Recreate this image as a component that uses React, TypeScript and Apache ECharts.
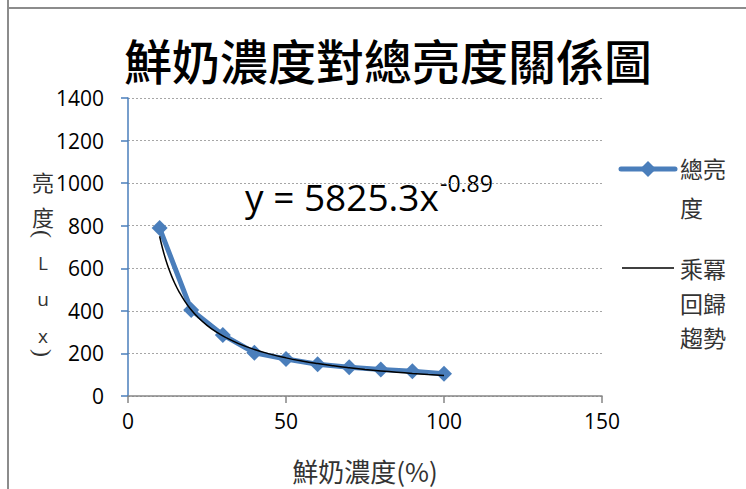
import React, { useEffect, useRef } from "react";
import * as echarts from "echarts";

const chartTitle = "鮮奶濃度對總亮度關係圖";
const xAxisName = "鮮奶濃度(%)";
const yAxisNameChars = ["亮", "度", "(", "L", "u", "x", ")"];
const concentration = [10, 20, 30, 40, 50, 60, 70, 80, 90, 100];
const brightness = [789, 404, 287, 203, 174, 149, 135, 124, 116, 105];
const seriesName = "總亮度";
const trendName = "乘冪回歸趨勢";
const trendCoef = 5825.3;
const trendExp = -0.89;
const trendX = [10, 11, 12, 13, 14, 15, 16, 18, 20, 22, 25, 28, 31, 35, 40, 45, 50, 55, 60, 65, 70, 75, 80, 85, 90, 95, 100];

const BLUE = "#4a7ebb";
const SANS = "'Open Sans', 'Noto Sans', sans-serif";
const CJK = "'Noto Sans CJK TC', 'Noto Sans CJK SC', sans-serif";

export default function App() {
  const ref = useRef<HTMLDivElement>(null);
  useEffect(() => {
    if (!ref.current) return;
    const chart = echarts.init(ref.current, undefined, { renderer: "svg" });
    const mainData = concentration.map((x, i) => [x, brightness[i]]);
    const trendData = trendX.map((x) => [x, trendCoef * Math.pow(x, trendExp)]);
    const yLabelPos = [181, 216, 234, 263, 299, 336, 353];
    chart.setOption({
      animation: false,
      backgroundColor: "#ffffff",
      title: {
        text: chartTitle,
        left: 383,
        top: 30,
        textAlign: "center",
        textStyle: { fontFamily: CJK, fontSize: 48, fontWeight: 500, color: "#000" },
      },
      grid: { left: 128, right: 144, top: 98, bottom: 93, containLabel: false },
      xAxis: {
        type: "value",
        min: 0,
        max: 150,
        interval: 50,
        name: xAxisName,
        nameLocation: "middle",
        nameGap: 61,
        nameTextStyle: { fontFamily: CJK, fontSize: 26, color: "#333" },
        axisLine: { show: true, onZero: false, lineStyle: { color: "#868686", width: 1.5 } },
        axisTick: { show: true, length: 7, lineStyle: { color: "#868686", width: 1.5 } },
        axisLabel: { fontFamily: SANS, fontSize: 21, color: "#000", margin: 14 },
        splitLine: { show: false },
      },
      yAxis: {
        type: "value",
        min: 0,
        max: 1400,
        interval: 200,
        axisLine: { show: true, lineStyle: { color: BLUE, width: 1.5 } },
        axisTick: { show: true, length: 7, lineStyle: { color: BLUE, width: 1.5 } },
        axisLabel: { fontFamily: SANS, fontSize: 21, color: "#000", margin: 24, formatter: (v: number) => String(v) },
        splitLine: { show: true, lineStyle: { color: "#a6a6a6", type: [2, 2], width: 1.2 } },
      },
      series: [
        {
          name: seriesName,
          type: "line",
          data: mainData,
          symbol: "diamond",
          symbolSize: 16,
          itemStyle: { color: BLUE },
          lineStyle: { color: BLUE, width: 5 },
          z: 2,
        },
        {
          name: trendName,
          type: "line",
          data: trendData,
          smooth: true,
          showSymbol: false,
          symbol: "none",
          lineStyle: { color: "#000", width: 1.5 },
          z: 3,
        },
      ],
      graphic: [
        { type: "line", shape: { x1: 8, y1: 0, x2: 8, y2: 489 }, style: { stroke: "#8c8c8c", lineWidth: 2 } },
        { type: "line", shape: { x1: 8, y1: 8, x2: 746, y2: 8 }, style: { stroke: "#8c8c8c", lineWidth: 2 } },
        ...yAxisNameChars.map((c, i) => {
          const paren = c === "(" || c === ")";
          const latin = /[A-Za-z]/.test(c);
          return {
            type: "text",
            x: 43,
            y: yLabelPos[i],
            rotation: paren ? -Math.PI / 2 : 0,
            style: {
              text: c,
              fontFamily: paren ? "'Liberation Serif', serif" : latin ? SANS : CJK,
              fontSize: paren ? 24 : latin ? 19 : 22,
              fill: "#333",
              align: "center",
              verticalAlign: "middle",
            },
          };
        }),
        {
          type: "text",
          x: 245,
          y: 196,
          style: { text: "y = 5825.3x", fontFamily: SANS, fontSize: 37, fill: "#000", verticalAlign: "middle" },
        },
        {
          type: "text",
          x: 440,
          y: 183,
          style: { text: "-0.89", fontFamily: SANS, fontSize: 23, fill: "#000", verticalAlign: "middle" },
        },
        { type: "line", shape: { x1: 621, y1: 169, x2: 675, y2: 169 }, style: { stroke: BLUE, lineWidth: 5, lineCap: "round" } },
        { type: "polygon", shape: { points: [[648, 161], [656, 169], [648, 177], [640, 169]] }, style: { fill: BLUE } },
        { type: "text", x: 680, y: 168, style: { text: "總亮", fontFamily: CJK, fontSize: 23, fill: "#333", verticalAlign: "middle" } },
        { type: "text", x: 680, y: 207, style: { text: "度", fontFamily: CJK, fontSize: 23, fill: "#333", verticalAlign: "middle" } },
        { type: "line", shape: { x1: 622, y1: 268, x2: 674, y2: 268 }, style: { stroke: "#000", lineWidth: 1.5 } },
        { type: "text", x: 680, y: 268, style: { text: "乘冪", fontFamily: CJK, fontSize: 23, fill: "#333", verticalAlign: "middle" } },
        { type: "text", x: 680, y: 303, style: { text: "回歸", fontFamily: CJK, fontSize: 23, fill: "#333", verticalAlign: "middle" } },
        { type: "text", x: 680, y: 337, style: { text: "趨勢", fontFamily: CJK, fontSize: 23, fill: "#333", verticalAlign: "middle" } },
      ],
    });
    return () => chart.dispose();
  }, []);
  return (
    <div
      ref={ref}
      style={{ position: "fixed", left: 0, top: 0, width: 746, height: 489 }}
    />
  );
}
